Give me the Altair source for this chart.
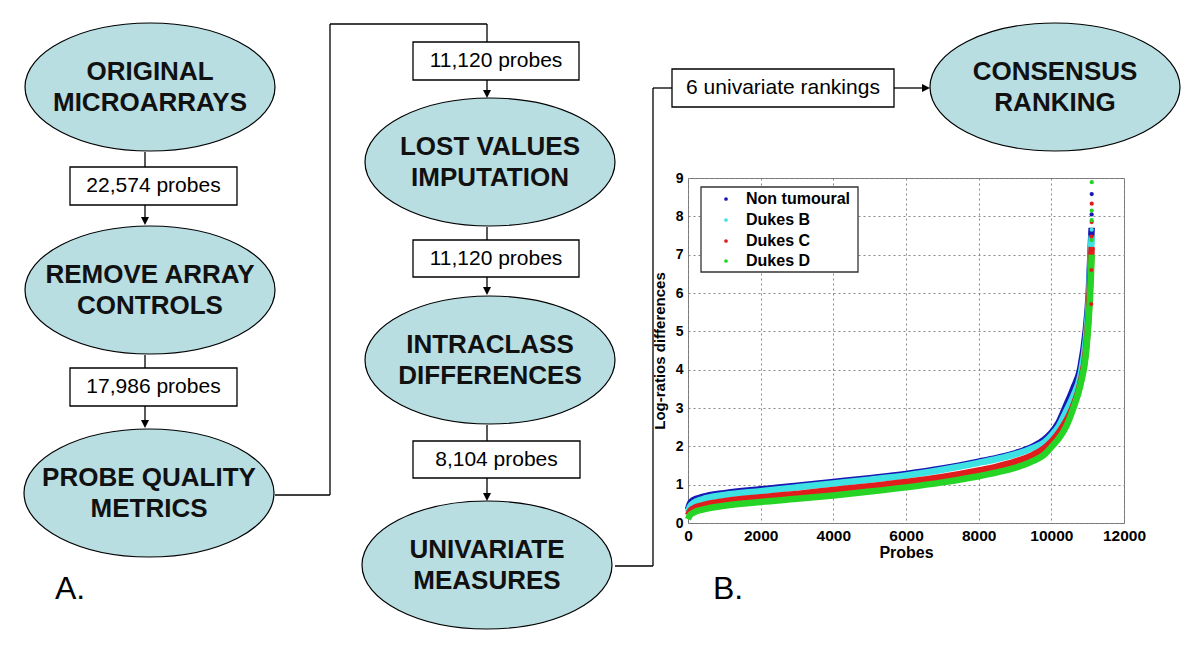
import altair as alt
import pandas as pd

# ---------------- Flowchart content (panel A) ----------------
node_line1 = ["ORIGINAL", "REMOVE ARRAY", "PROBE QUALITY", "LOST VALUES",
              "INTRACLASS", "UNIVARIATE", "CONSENSUS"]
node_line2 = ["MICROARRAYS", "CONTROLS", "METRICS", "IMPUTATION",
              "DIFFERENCES", "MEASURES", "RANKING"]
box_labels = ["22,574 probes", "17,986 probes", "11,120 probes",
              "11,120 probes", "8,104 probes", "6 univariate rankings"]
panel_labels = ["A.", "B."]

# ---------------- Inset data (panel B) ----------------
series_names = ["Non tumoural", "Dukes B", "Dukes C", "Dukes D"]
series_colors = ["#1818B4", "#3EE2E2", "#E01C1C", "#26D426"]
probe_x = [0, 50, 150, 400, 1000, 2000, 3000, 4000, 5000, 6000, 7000, 8000,
           8500, 9000, 9500, 9800, 10000, 10200, 10400, 10600, 10800, 10950,
           11030, 11080, 11110]
nontumoural_y = [0.35, 0.50, 0.60, 0.68, 0.78, 0.88, 0.97, 1.07, 1.17, 1.28,
                 1.42, 1.60, 1.70, 1.82, 2.00, 2.17, 2.35, 2.62, 3.05, 3.50,
                 4.05, 5.05, 6.00, 7.10, 7.70]
dukesB_y = [0.28, 0.42, 0.52, 0.62, 0.73, 0.83, 0.93, 1.03, 1.13, 1.24,
            1.39, 1.57, 1.67, 1.79, 1.96, 2.10, 2.28, 2.52, 2.90, 3.30,
            3.85, 4.80, 5.80, 6.90, 7.50]
dukesC_y = [0.20, 0.30, 0.38, 0.46, 0.57, 0.67, 0.76, 0.86, 0.96, 1.07,
            1.20, 1.37, 1.47, 1.60, 1.78, 1.95, 2.12, 2.35, 2.65, 3.05,
            3.65, 4.50, 5.50, 6.60, 7.20]
dukesD_y = [0.10, 0.20, 0.27, 0.35, 0.45, 0.55, 0.63, 0.72, 0.82, 0.93,
            1.06, 1.22, 1.32, 1.44, 1.62, 1.78, 1.98, 2.20, 2.50, 2.98,
            3.60, 4.40, 5.35, 6.20, 7.00]
# scattered top points
tail_series = ["Non tumoural"] * 4 + ["Dukes B"] * 2 + ["Dukes C"] * 6 + ["Dukes D"] * 4
tail_x = [11112, 11110, 11108, 11106,
          11112, 11110,
          11112, 11110, 11108, 11106, 11104, 11100,
          11114, 11112, 11110, 11108]
tail_y = [8.58, 8.05, 7.62, 7.50,
          7.65, 7.38,
          8.33, 7.85, 7.47, 7.15, 6.60, 5.71,
          8.89, 8.15, 7.90, 7.38]
x_ticks = [0, 2000, 4000, 6000, 8000, 10000, 12000]
y_ticks = [0, 1, 2, 3, 4, 5, 6, 7, 8, 9]

# ---------------- Layout (page pixel positions) ----------------
node_cx = [150, 150, 149, 490, 490, 487, 1055]
node_cy = [87, 290, 493, 162, 360, 565, 87]
box_x1 = [70, 70, 413, 413, 413, 672]
box_x2 = [237, 237, 579, 579, 580, 894]
box_y1 = [167, 368, 42, 240, 441, 69]
box_y2 = [205, 406, 80, 277, 478, 107]
segments = [
    (145, 152, 145, 167), (145, 205, 145, 220),
    (145, 355, 145, 368), (145, 406, 145, 423),
    (275, 495, 330, 495), (330, 495, 330, 24), (330, 24, 487, 24),
    (487, 24, 487, 42), (487, 80, 487, 93),
    (487, 227, 487, 240), (487, 277, 487, 290),
    (487, 425, 487, 441), (487, 478, 487, 496),
    (615, 566, 653, 566), (653, 566, 653, 88), (653, 88, 672, 88),
    (894, 88, 925, 88),
]
arrow_down = [(145, 221), (145, 424), (487, 94), (487, 291), (487, 497)]
arrow_right = [(926, 88)]
panel_x = [55, 713]
panel_y = [599, 599]
legend_box = (701, 187, 858, 272)
legend_sym_x = 726
legend_label_x = 746
legend_row_y = [199, 220, 241, 261]

FONT = "Liberation Sans"
FX = alt.Scale(domain=[688, 1124], nice=False, zero=False)
FY = alt.Scale(domain=[178, 523], nice=False, zero=False, reverse=True)
CS = alt.Scale(domain=series_names, range=series_colors)


def fx(f):
    return alt.X(f, scale=FX, axis=None)


def fy(f):
    return alt.Y(f, scale=FY, axis=None)


seg_df = pd.DataFrame(segments, columns=["x", "y", "x2", "y2"])
rules = alt.Chart(seg_df).mark_rule(color="black", strokeWidth=1.3).encode(
    x=fx("x:Q"), y=fy("y:Q"), x2="x2:Q", y2="y2:Q")

box_df = pd.DataFrame({"x1": box_x1, "x2": box_x2, "y1": box_y1, "y2": box_y2,
                       "label": box_labels})
box_df["cx"] = (box_df.x1 + box_df.x2) / 2
box_df["cy"] = (box_df.y1 + box_df.y2) / 2
boxes = alt.Chart(box_df).mark_rect(fill="white", stroke="black", strokeWidth=1.3).encode(
    x=fx("x1:Q"), x2="x2:Q", y=fy("y1:Q"), y2="y2:Q")
box_text = alt.Chart(box_df).mark_text(font=FONT, fontSize=21, color="black",
                                       baseline="middle", align="center").encode(
    x=fx("cx:Q"), y=fy("cy:Q"), text="label:N")

ELLIPSE = "M -1 0 A 1 0.512 0 1 1 1 0 A 1 0.512 0 1 1 -1 0 Z"
node_df = pd.DataFrame({"cx": node_cx, "cy": node_cy})
ellipses = alt.Chart(node_df).mark_point(
    shape=ELLIPSE, size=62500, filled=True, fill="#B8DEE2", stroke="black",
    strokeWidth=1.2, opacity=1, fillOpacity=1, strokeOpacity=1).encode(
    x=fx("cx:Q"), y=fy("cy:Q"))
text_rows = pd.DataFrame({
    "cx": node_cx + node_cx,
    "cy": [c - 15 for c in node_cy] + [c + 16 for c in node_cy],
    "label": node_line1 + node_line2,
})
node_text = alt.Chart(text_rows).mark_text(
    font=FONT, fontWeight="bold", fontSize=26, color="#111",
    baseline="middle", align="center").encode(
    x=fx("cx:Q"), y=fy("cy:Q"), text="label:N")

ad_df = pd.DataFrame(arrow_down, columns=["x", "y"])
ar_df = pd.DataFrame(arrow_right, columns=["x", "y"])
arrows_d = alt.Chart(ad_df).mark_point(shape="M -1 -1 L 1 -1 L 0 1 Z", size=64,
                                      filled=True, color="black", opacity=1).encode(
    x=fx("x:Q"), y=fy("y:Q"))
arrows_r = alt.Chart(ar_df).mark_point(shape="M -1 -1 L -1 1 L 1 0 Z", size=64,
                                      filled=True, color="black", opacity=1).encode(
    x=fx("x:Q"), y=fy("y:Q"))

pan_df = pd.DataFrame({"x": panel_x, "y": panel_y, "label": panel_labels})
panels = alt.Chart(pan_df).mark_text(font=FONT, fontSize=32, color="black",
                                     align="left", baseline="alphabetic").encode(
    x=fx("x:Q"), y=fy("y:Q"), text="label:N")

# legend of the inset, drawn in page coordinates
lb_df = pd.DataFrame([legend_box], columns=["x1", "y1", "x2", "y2"])
leg_box = alt.Chart(lb_df).mark_rect(fill="white", stroke="#333", strokeWidth=1.3).encode(
    x=fx("x1:Q"), x2="x2:Q", y=fy("y1:Q"), y2="y2:Q")
leg_df = pd.DataFrame({"sx": [legend_sym_x] * 4, "lx": [legend_label_x] * 4,
                       "y": legend_row_y, "series": series_names})
leg_sym = alt.Chart(leg_df).mark_point(filled=True, size=14, opacity=1).encode(
    x=fx("sx:Q"), y=fy("y:Q"), color=alt.Color("series:N", scale=CS, legend=None))
leg_lab = alt.Chart(leg_df).mark_text(font=FONT, fontWeight="bold", fontSize=16,
                                      color="black", align="left",
                                      baseline="middle").encode(
    x=fx("lx:Q"), y=fy("y:Q"), text="series:N")

flow = alt.layer(rules, boxes, box_text, ellipses, node_text, arrows_d, arrows_r,
                 panels, leg_box, leg_sym, leg_lab)

# ---------------- Inset chart ----------------
XS = alt.Scale(domain=[0, 12000], nice=False, zero=False)
YS = alt.Scale(domain=[0, 9], nice=False, zero=False)
x_axis = alt.Axis(values=x_ticks, title="Probes", orient="bottom", format="d",
                  labelFont=FONT, labelFontWeight="bold", labelFontSize=15.5,
                  labelColor="black", labelPadding=5, titleFont=FONT,
                  titleFontWeight="bold", titleFontSize=16, titleColor="black",
                  titlePadding=1, grid=True, gridDash=[2, 3], gridColor="#888",
                  gridWidth=1, domain=False, ticks=False, tickSize=0, labelFlush=False)
y_axis = alt.Axis(values=y_ticks, title="Log-ratios differences", orient="left",
                  labelFont=FONT, labelFontWeight="bold", labelFontSize=14,
                  labelColor="black", labelPadding=5, titleFont=FONT,
                  titleFontWeight="bold", titleFontSize=15, titleColor="black",
                  titlePadding=8, grid=True, gridDash=[2, 3], gridColor="#888",
                  gridWidth=1, domain=False, ticks=False, tickSize=0, labelFlush=False)

curve_values = [nontumoural_y, dukesB_y, dukesC_y, dukesD_y]
line_layers = []
for name, vals in zip(series_names, curve_values):
    d = pd.DataFrame({"probe": probe_x, "value": vals, "series": name})
    line_layers.append(
        alt.Chart(d).mark_line(strokeWidth=6.5, interpolate="monotone").encode(
            x=alt.X("probe:Q", scale=XS, axis=x_axis),
            y=alt.Y("value:Q", scale=YS, axis=y_axis),
            color=alt.Color("series:N", scale=CS, legend=None)))

tail_df = pd.DataFrame({"probe": tail_x, "value": tail_y, "series": tail_series})
tails = alt.Chart(tail_df).mark_point(filled=True, size=18, opacity=1).encode(
    x=alt.X("probe:Q", scale=XS, axis=x_axis),
    y=alt.Y("value:Q", scale=YS, axis=y_axis),
    color=alt.Color("series:N", scale=CS, legend=None))

inset = alt.layer(*line_layers, tails)

chart = alt.layer(inset, flow).resolve_scale(
    x="independent", y="independent"
).properties(
    width=436, height=345,
    autosize=alt.AutoSizeParams(type="none"),
    padding={"left": 680, "top": 170, "right": 68, "bottom": 119},
    background="white",
).configure_view(stroke="#777", strokeWidth=1)

chart.save("out.html", embed_options={"renderer": "svg", "actions": False})
